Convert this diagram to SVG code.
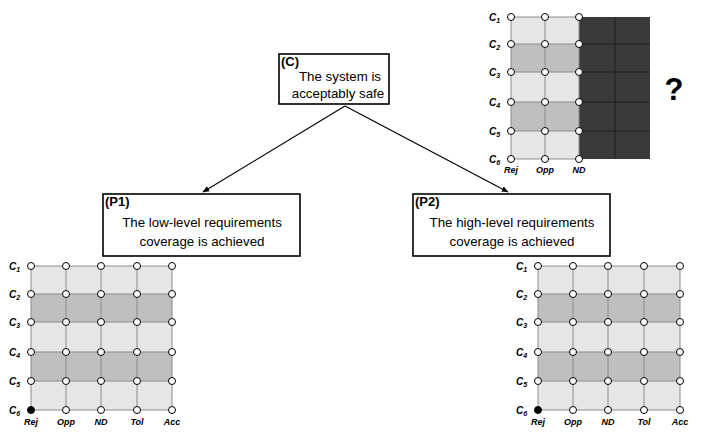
<svg xmlns="http://www.w3.org/2000/svg" width="709" height="436" viewBox="0 0 709 436">
<style>
.box{fill:#fff;stroke:#000;stroke-width:1.6}
.t{font-family:"Liberation Sans",Arial,sans-serif;font-size:13.3px;fill:#000;text-anchor:middle}
.tag{font-family:"Liberation Sans",Arial,sans-serif;font-size:13px;font-weight:bold;fill:#000}
.lt{fill:#e6e6e6}
.dk{fill:#bfbfbf}
.gl{stroke:#8c8c8c;stroke-width:1;fill:none}
.dl{stroke:#1e1e1e;stroke-width:1;fill:none}
.nd{fill:#fff;stroke:#000;stroke-width:1}
.ndf{fill:#000;stroke:#000;stroke-width:1}
.lab{font-family:"Liberation Sans",Arial,sans-serif;font-size:10px;font-weight:bold;font-style:italic;fill:#000}
.cl{font-family:"Liberation Sans",Arial,sans-serif;font-size:9px;font-weight:bold;font-style:italic;fill:#000;text-anchor:middle}
.sub{font-size:7px}
.con{stroke:#000;stroke-width:1.2;fill:none}
</style>
<defs>
<marker id="ah" viewBox="0 0 10 10" refX="9" refY="5" markerWidth="7" markerHeight="7" orient="auto" markerUnits="userSpaceOnUse">
<path d="M0,1 L10,5 L0,9 Z" fill="#000"/>
</marker>
</defs>

<g id="connectors">
<line class="con" x1="345" y1="106" x2="203" y2="192" marker-end="url(#ah)"/>
<line class="con" x1="345" y1="106" x2="508" y2="192" marker-end="url(#ah)"/>
</g>

<g id="node-C">
<rect class="box" x="279" y="54" width="110" height="50"/>
<text class="tag" x="281" y="66">(C)</text>
<text class="t" x="340" y="81">The system is</text>
<text class="t" x="338" y="98">acceptably safe</text>
</g>

<g id="node-P1">
<rect class="box" x="103" y="194" width="197" height="62"/>
<text class="tag" x="105" y="206">(P1)</text>
<text class="t" x="202" y="227">The low-level requirements</text>
<text class="t" x="202" y="246">coverage is achieved</text>
</g>

<g id="node-P2">
<rect class="box" x="413" y="194" width="197" height="62"/>
<text class="tag" x="415" y="206">(P2)</text>
<text class="t" x="512" y="227">The high-level requirements</text>
<text class="t" x="512" y="246">coverage is achieved</text>
</g>

<g id="grid-top">
<rect class="lt" x="511" y="17" width="68" height="142"/>
<rect class="dk" x="511" y="44" width="68" height="28"/>
<rect class="dk" x="511" y="102" width="68" height="29"/>
<rect x="579" y="17" width="71" height="142" fill="#3a3a3a"/>
<path class="dl" d="M615,17V159 M579,44H650 M579,72H650 M579,102H650 M579,131H650"/>
<path class="gl" d="M511,17V159 M545,17V159 M579,17V159 M511,17H579 M511,44H579 M511,72H579 M511,102H579 M511,131H579 M511,159H579"/>
<g>
<circle class="nd" cx="511" cy="17" r="3.5"/><circle class="nd" cx="545" cy="17" r="3.5"/><circle class="nd" cx="579" cy="17" r="3.5"/>
<circle class="nd" cx="511" cy="44" r="3.5"/><circle class="nd" cx="545" cy="44" r="3.5"/><circle class="nd" cx="579" cy="44" r="3.5"/>
<circle class="nd" cx="511" cy="72" r="3.5"/><circle class="nd" cx="545" cy="72" r="3.5"/><circle class="nd" cx="579" cy="72" r="3.5"/>
<circle class="nd" cx="511" cy="102" r="3.5"/><circle class="nd" cx="545" cy="102" r="3.5"/><circle class="nd" cx="579" cy="102" r="3.5"/>
<circle class="nd" cx="511" cy="131" r="3.5"/><circle class="nd" cx="545" cy="131" r="3.5"/><circle class="nd" cx="579" cy="131" r="3.5"/>
<circle class="nd" cx="511" cy="159" r="3.5"/><circle class="nd" cx="545" cy="159" r="3.5"/><circle class="nd" cx="579" cy="159" r="3.5"/>
</g>
<text class="lab" x="489" y="21">C<tspan class="sub" dy="1.5">1</tspan></text>
<text class="lab" x="489" y="48">C<tspan class="sub" dy="1.5">2</tspan></text>
<text class="lab" x="489" y="76">C<tspan class="sub" dy="1.5">3</tspan></text>
<text class="lab" x="489" y="106">C<tspan class="sub" dy="1.5">4</tspan></text>
<text class="lab" x="489" y="135">C<tspan class="sub" dy="1.5">5</tspan></text>
<text class="lab" x="489" y="163">C<tspan class="sub" dy="1.5">6</tspan></text>
<text class="cl" x="511" y="173">Rej</text>
<text class="cl" x="545" y="173">Opp</text>
<text class="cl" x="579" y="173">ND</text>
<text x="674" y="100" font-family="Liberation Sans,Arial,sans-serif" font-size="31" font-weight="bold" text-anchor="middle">?</text>
</g>

<g id="grid-left">
<rect class="lt" x="31" y="266" width="141" height="144"/>
<rect class="dk" x="31" y="294" width="141" height="28"/>
<rect class="dk" x="31" y="352" width="141" height="29"/>
<path class="gl" d="M31,266V410 M66,266V410 M101,266V410 M137,266V410 M172,266V410 M31,266H172 M31,294H172 M31,322H172 M31,352H172 M31,381H172 M31,410H172"/>
<g>
<circle class="nd" cx="31" cy="266" r="3.5"/><circle class="nd" cx="66" cy="266" r="3.5"/><circle class="nd" cx="101" cy="266" r="3.5"/><circle class="nd" cx="137" cy="266" r="3.5"/><circle class="nd" cx="172" cy="266" r="3.5"/>
<circle class="nd" cx="31" cy="294" r="3.5"/><circle class="nd" cx="66" cy="294" r="3.5"/><circle class="nd" cx="101" cy="294" r="3.5"/><circle class="nd" cx="137" cy="294" r="3.5"/><circle class="nd" cx="172" cy="294" r="3.5"/>
<circle class="nd" cx="31" cy="322" r="3.5"/><circle class="nd" cx="66" cy="322" r="3.5"/><circle class="nd" cx="101" cy="322" r="3.5"/><circle class="nd" cx="137" cy="322" r="3.5"/><circle class="nd" cx="172" cy="322" r="3.5"/>
<circle class="nd" cx="31" cy="352" r="3.5"/><circle class="nd" cx="66" cy="352" r="3.5"/><circle class="nd" cx="101" cy="352" r="3.5"/><circle class="nd" cx="137" cy="352" r="3.5"/><circle class="nd" cx="172" cy="352" r="3.5"/>
<circle class="nd" cx="31" cy="381" r="3.5"/><circle class="nd" cx="66" cy="381" r="3.5"/><circle class="nd" cx="101" cy="381" r="3.5"/><circle class="nd" cx="137" cy="381" r="3.5"/><circle class="nd" cx="172" cy="381" r="3.5"/>
<circle class="ndf" cx="31" cy="410" r="3.5"/><circle class="nd" cx="66" cy="410" r="3.5"/><circle class="nd" cx="101" cy="410" r="3.5"/><circle class="nd" cx="137" cy="410" r="3.5"/><circle class="nd" cx="172" cy="410" r="3.5"/>
</g>
<text class="lab" x="9" y="270">C<tspan class="sub" dy="1.5">1</tspan></text>
<text class="lab" x="9" y="298">C<tspan class="sub" dy="1.5">2</tspan></text>
<text class="lab" x="9" y="326">C<tspan class="sub" dy="1.5">3</tspan></text>
<text class="lab" x="9" y="356">C<tspan class="sub" dy="1.5">4</tspan></text>
<text class="lab" x="9" y="385">C<tspan class="sub" dy="1.5">5</tspan></text>
<text class="lab" x="9" y="414">C<tspan class="sub" dy="1.5">6</tspan></text>
<text class="cl" x="31" y="425">Rej</text>
<text class="cl" x="66" y="425">Opp</text>
<text class="cl" x="101" y="425">ND</text>
<text class="cl" x="137" y="425">Tol</text>
<text class="cl" x="172" y="425">Acc</text>
</g>

<g id="grid-right">
<rect class="lt" x="538" y="266" width="142" height="144"/>
<rect class="dk" x="538" y="294" width="142" height="28"/>
<rect class="dk" x="538" y="352" width="142" height="29"/>
<path class="gl" d="M538,266V410 M573,266V410 M608,266V410 M644,266V410 M680,266V410 M538,266H680 M538,294H680 M538,322H680 M538,352H680 M538,381H680 M538,410H680"/>
<g>
<circle class="nd" cx="538" cy="266" r="3.5"/><circle class="nd" cx="573" cy="266" r="3.5"/><circle class="nd" cx="608" cy="266" r="3.5"/><circle class="nd" cx="644" cy="266" r="3.5"/><circle class="nd" cx="680" cy="266" r="3.5"/>
<circle class="nd" cx="538" cy="294" r="3.5"/><circle class="nd" cx="573" cy="294" r="3.5"/><circle class="nd" cx="608" cy="294" r="3.5"/><circle class="nd" cx="644" cy="294" r="3.5"/><circle class="nd" cx="680" cy="294" r="3.5"/>
<circle class="nd" cx="538" cy="322" r="3.5"/><circle class="nd" cx="573" cy="322" r="3.5"/><circle class="nd" cx="608" cy="322" r="3.5"/><circle class="nd" cx="644" cy="322" r="3.5"/><circle class="nd" cx="680" cy="322" r="3.5"/>
<circle class="nd" cx="538" cy="352" r="3.5"/><circle class="nd" cx="573" cy="352" r="3.5"/><circle class="nd" cx="608" cy="352" r="3.5"/><circle class="nd" cx="644" cy="352" r="3.5"/><circle class="nd" cx="680" cy="352" r="3.5"/>
<circle class="nd" cx="538" cy="381" r="3.5"/><circle class="nd" cx="573" cy="381" r="3.5"/><circle class="nd" cx="608" cy="381" r="3.5"/><circle class="nd" cx="644" cy="381" r="3.5"/><circle class="nd" cx="680" cy="381" r="3.5"/>
<circle class="ndf" cx="538" cy="410" r="3.5"/><circle class="nd" cx="573" cy="410" r="3.5"/><circle class="nd" cx="608" cy="410" r="3.5"/><circle class="nd" cx="644" cy="410" r="3.5"/><circle class="nd" cx="680" cy="410" r="3.5"/>
</g>
<text class="lab" x="516" y="270">C<tspan class="sub" dy="1.5">1</tspan></text>
<text class="lab" x="516" y="298">C<tspan class="sub" dy="1.5">2</tspan></text>
<text class="lab" x="516" y="326">C<tspan class="sub" dy="1.5">3</tspan></text>
<text class="lab" x="516" y="356">C<tspan class="sub" dy="1.5">4</tspan></text>
<text class="lab" x="516" y="385">C<tspan class="sub" dy="1.5">5</tspan></text>
<text class="lab" x="516" y="414">C<tspan class="sub" dy="1.5">6</tspan></text>
<text class="cl" x="538" y="425">Rej</text>
<text class="cl" x="573" y="425">Opp</text>
<text class="cl" x="608" y="425">ND</text>
<text class="cl" x="644" y="425">Tol</text>
<text class="cl" x="680" y="425">Acc</text>
</g>
</svg>
